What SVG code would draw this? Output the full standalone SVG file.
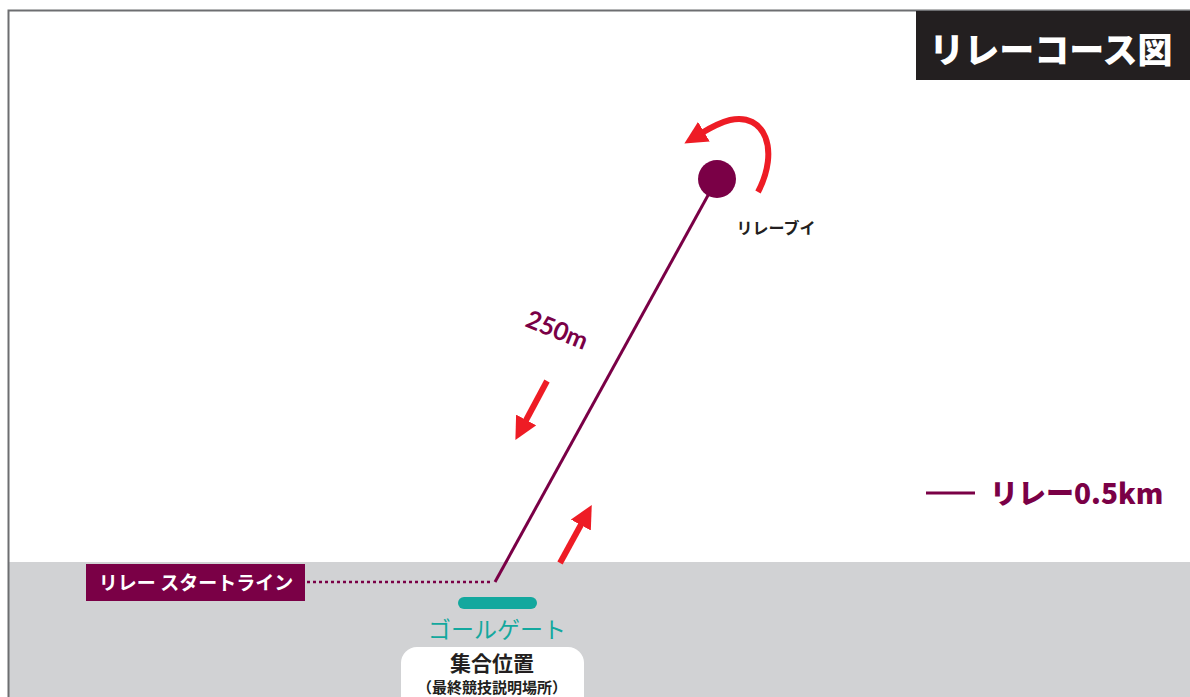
<svg xmlns="http://www.w3.org/2000/svg" width="1190" height="697" viewBox="0 0 1190 697">
<style>
.jp{font-family:"Noto Sans CJK JP","Noto Sans",sans-serif}
.b{font-weight:bold}
.h{font-weight:900}
.red{stroke:#ee1c25;fill:none;stroke-width:6}
</style>
<defs>
<marker id="ah" viewBox="0 0 10 10" refX="2" refY="5" markerWidth="3.8" markerHeight="3.8" orient="auto" markerUnits="strokeWidth">
<path d="M0,0 L10,5 L0,10 Z" fill="#ee1c25"/>
</marker>
</defs>
<rect x="0" y="0" width="1190" height="697" fill="#fff"/>
<rect x="9" y="562" width="1181" height="135" fill="#d1d2d4"/>
<path d="M8.5,697 V10.5 H1190" fill="none" stroke="#6d6e71" stroke-width="2"/>
<g id="title">
<rect x="916" y="11" width="274" height="69" fill="#231f20"/>
<text x="1051" y="63" class="jp h" font-size="35" fill="#fff" text-anchor="middle">リレーコース図</text>
</g>
<g id="connectors">
<line x1="717" y1="179" x2="495" y2="582" stroke="#7a0046" stroke-width="3"/>
<line x1="307" y1="582" x2="490" y2="582" stroke="#7a0046" stroke-width="2.5" stroke-dasharray="3,3"/>
<path class="red" d="M758,192 C780,150 765,112 730,120 C718,123 710,128 700,134" marker-end="url(#ah)"/>
<line class="red" x1="547" y1="381" x2="524" y2="424" marker-end="url(#ah)"/>
<line class="red" x1="560" y1="563" x2="583" y2="521" marker-end="url(#ah)"/>
</g>
<g id="buoy">
<circle cx="717" cy="179" r="19" fill="#7a0046"/>
<text x="776" y="234" class="jp b" font-size="16" fill="#231f20" text-anchor="middle">リレーブイ</text>
</g>
<g id="distance">
<text x="0" y="0" transform="translate(524,326) rotate(22)" font-family="Lato,'Noto Sans',sans-serif" font-weight="bold" font-size="25" fill="#7a0046">250m</text>
</g>
<g id="startline">
<rect x="86" y="564" width="219" height="37" fill="#7a0046"/>
<text x="196" y="590" class="jp b" font-size="19" fill="#fff" text-anchor="middle">リレー スタートライン</text>
</g>
<g id="goal">
<rect x="458" y="597" width="79" height="12" rx="6" fill="#13a89e"/>
<text x="497" y="638" class="jp" font-size="23" fill="#13a89e" text-anchor="middle">ゴールゲート</text>
</g>
<g id="meeting">
<rect x="401" y="647" width="183" height="70" rx="16" fill="#fff"/>
<text x="492" y="671" class="jp b" font-size="21" fill="#231f20" text-anchor="middle">集合位置</text>
<text x="492" y="693" class="jp b" font-size="15" fill="#231f20" text-anchor="middle">（最終競技説明場所）</text>
</g>
<g id="legend">
<line x1="926" y1="493" x2="975" y2="493" stroke="#7a0046" stroke-width="3"/>
<text x="990" y="504" class="jp h" font-size="28" fill="#7a0046">リレー0.5km</text>
</g>
</svg>
